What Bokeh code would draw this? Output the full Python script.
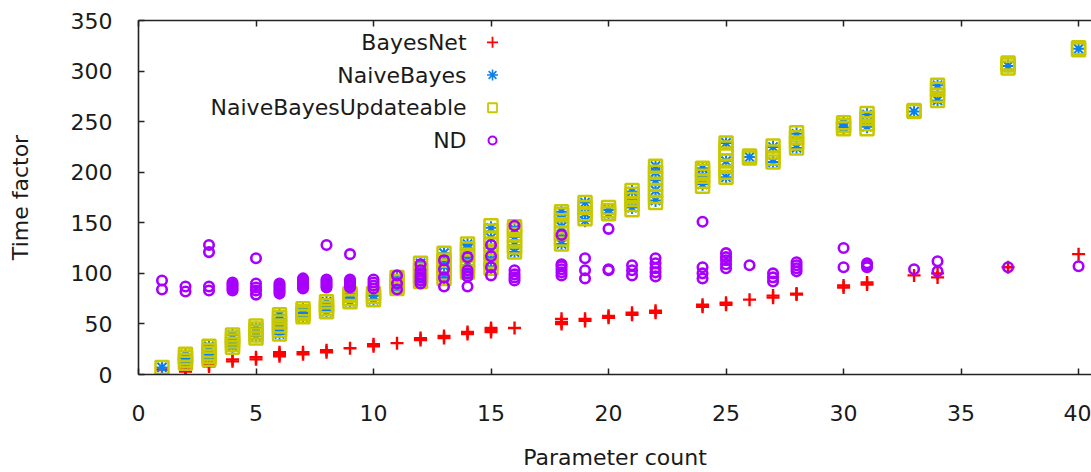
from bokeh.plotting import figure
from bokeh.models import LinearAxis, Range1d, FixedTicker, Label, ColumnDataSource
from bokeh.embed import file_html
from bokeh.resources import INLINE

# ---------------- data ----------------
param_counts = [1, 2, 3, 4, 5, 6, 7, 8, 9, 10, 11, 12, 13, 14, 15, 16,
                18, 19, 20, 21, 22, 24, 25, 26, 27, 28, 30, 31, 33, 34, 37, 40]

bayesnet = [[5], [3, 5], [8, 10], [13, 15], [15, 17], [18, 20, 22], [20, 22], [22, 24],
            [26], [28, 30], [31], [34, 36], [36, 38], [40, 42], [42, 44, 46], [46],
            [50, 52, 55], [53, 55], [56, 58], [59, 61], [61, 63], [67, 69], [69, 71], [74],
            [76, 78], [79, 80], [86, 88], [89, 91], [98], [96, 100], [106], [119]]

naivebayes = [[7], [12, 16, 20], [16, 20, 24, 28], [28, 32, 36, 39], [38, 42, 46],
              [40, 45, 50, 55, 59], [57, 61, 65], [62, 67, 72], [72, 76, 80], [74, 78],
              [85, 90, 96], [92, 100, 110], [96, 107, 113, 120], [101, 108, 116, 124, 129],
              [105, 114, 125, 135, 145], [121, 128, 136, 144],
              [129, 137, 146, 154, 161], [152, 159, 170], [159, 163], [165, 173, 181],
              [172, 182, 192, 200, 206], [188, 196, 204], [195, 211, 229], [215],
              [210, 225], [224, 238], [244, 249], [245, 257], [260], [271, 286], [305], [322]]

naivebayes_upd = [[7], [11, 14, 17, 20], [15, 18, 21, 24, 28], [27, 30, 33, 36, 39],
                  [36, 39, 42, 45, 48], [40, 44, 48, 52, 56, 59], [57, 60, 62, 65],
                  [62, 65, 68, 72], [72, 75, 78, 80], [74, 77, 80], [85, 88, 92, 96],
                  [92, 97, 103, 110], [95, 100, 107, 113, 120], [101, 106, 112, 118, 124, 129],
                  [105, 112, 120, 128, 135, 142, 147], [121, 126, 132, 138, 143, 146],
                  [129, 134, 140, 146, 152, 158, 161], [154, 159, 165, 170], [159, 162, 165],
                  [163, 168, 173, 178, 182], [170, 176, 182, 188, 194, 200, 206],
                  [186, 191, 196, 201, 204], [195, 200, 206, 211, 218, 224, 229], [214, 216],
                  [210, 214, 220, 226], [224, 229, 234, 239], [243, 246, 249],
                  [243, 248, 253, 258], [260, 261], [271, 276, 282, 286], [303, 306, 308],
                  [321, 323]]

nd = [[84, 93], [82, 87], [83, 87, 121, 128], [83, 85, 87, 89, 91], [79, 83, 86, 90, 115],
      [80, 82, 84, 86, 88, 90], [85, 87, 89, 91, 93, 95], [86, 88, 90, 92, 94, 128],
      [86, 88, 90, 92, 94, 119], [85, 88, 91, 94], [84, 90, 98], [90, 93, 96, 99, 103, 109],
      [87, 96, 104, 113], [87, 97, 100, 103, 116], [98, 106, 117, 128],
      [93, 96, 99, 103, 147], [98, 101, 104, 107, 109, 138], [95, 103, 115],
      [103, 104, 144], [98, 103, 108], [97, 101, 105, 110, 115], [95, 100, 106, 151],
      [105, 109, 113, 116, 120], [108], [92, 96, 100], [102, 105, 108, 111], [106, 125],
      [106, 108, 110], [104], [102, 112], [106], [107]]

series_names = ["BayesNet", "NaiveBayes", "NaiveBayesUpdateable", "ND"]
x_ticks = [0, 5, 10, 15, 20, 25, 30, 35, 40]
y_ticks = [0, 50, 100, 150, 200, 250, 300, 350]

# ---------------- style ----------------
FONT = "DejaVu Sans"
FS = "22px"
TXT = "#1a1a1a"
RED = "#ff0000"
BLUE = "#0a80f0"
YEL = "#c8c800"
PUR = "#a800ff"


def flat(groups):
    xs, ys = [], []
    for xv, vals in zip(param_counts, groups):
        for v in vals:
            xs.append(xv)
            ys.append(v)
    return ColumnDataSource(dict(x=xs, y=ys))


W, H = 1091, 472
p = figure(width=W, height=H, output_backend="svg", toolbar_location=None,
           x_range=Range1d(0, 40.55), y_range=Range1d(0, 350),
           min_border_left=138, min_border_right=0, min_border_top=20,
           min_border_bottom=95, background_fill_color="white",
           border_fill_color="white")
p.outline_line_color = None
p.xgrid.visible = False
p.ygrid.visible = False

for ax in (p.xaxis[0], p.yaxis[0]):
    ax.major_tick_in = 6
    ax.major_tick_out = 0
    ax.minor_tick_line_color = None
    ax.axis_line_color = "#222222"
    ax.axis_line_width = 1.6
    ax.major_tick_line_color = "#222222"
    ax.major_tick_line_width = 1.5
    ax.major_label_text_font = FONT
    ax.major_label_text_font_size = FS
    ax.major_label_text_color = TXT
    ax.axis_label_text_font = FONT
    ax.axis_label_text_font_size = FS
    ax.axis_label_text_font_style = "normal"
    ax.axis_label_text_color = TXT

p.xaxis.ticker = FixedTicker(ticks=x_ticks)
p.yaxis.ticker = FixedTicker(ticks=y_ticks)
p.xaxis.axis_label = "Parameter count"
p.yaxis.axis_label = "Time factor"
p.xaxis.major_label_standoff = 30
p.xaxis.axis_label_standoff = 21
p.yaxis.major_label_standoff = 26
p.yaxis.axis_label_standoff = 35

top = LinearAxis(ticker=FixedTicker(ticks=x_ticks), major_label_text_font_size="1px",
                 major_label_text_color=None, major_label_standoff=0,
                 major_tick_in=6, major_tick_out=0,
                 minor_tick_line_color=None, axis_line_color="#222222",
                 axis_line_width=1.6, major_tick_line_color="#222222",
                 major_tick_line_width=1.5)
p.add_layout(top, "above")

# ---------------- data marks ----------------
p.scatter("x", "y", source=flat(bayesnet), marker="cross", size=13,
          line_color=RED, line_width=2.4)
p.scatter("x", "y", source=flat(naivebayes), marker="asterisk", size=13,
          line_color=BLUE, line_width=2)
p.scatter("x", "y", source=flat(naivebayes_upd), marker="square", size=13,
          line_color=YEL, fill_color=None, line_width=2.5)
p.scatter("x", "y", source=flat(nd), marker="circle", size=9.5,
          line_color=PUR, fill_color=None, line_width=2.6)

# ---------------- key (gnuplot style: text then sample) ----------------
def sx(px):
    return (px - 138) / 23.5


def sy(py):
    return (377 - py) / 1.02


key_rows = [42, 75, 108, 141]
key_marks = [dict(marker="cross", line_color=RED, line_width=1.8, size=11),
             dict(marker="asterisk", line_color=BLUE, line_width=1.6, size=11),
             dict(marker="square", line_color=YEL, fill_color=None, line_width=1.8, size=9),
             dict(marker="circle", line_color=PUR, fill_color=None, line_width=2, size=8)]
for name, row, mk in zip(series_names, key_rows, key_marks):
    p.add_layout(Label(x=sx(466), y=sy(row), text=name, text_align="right",
                       text_baseline="middle", text_font=FONT, text_font_size=FS,
                       text_color=TXT))
    p.scatter(x=[sx(492)], y=[sy(row)], **mk)

open("out.html", "w").write(file_html(p, INLINE))
